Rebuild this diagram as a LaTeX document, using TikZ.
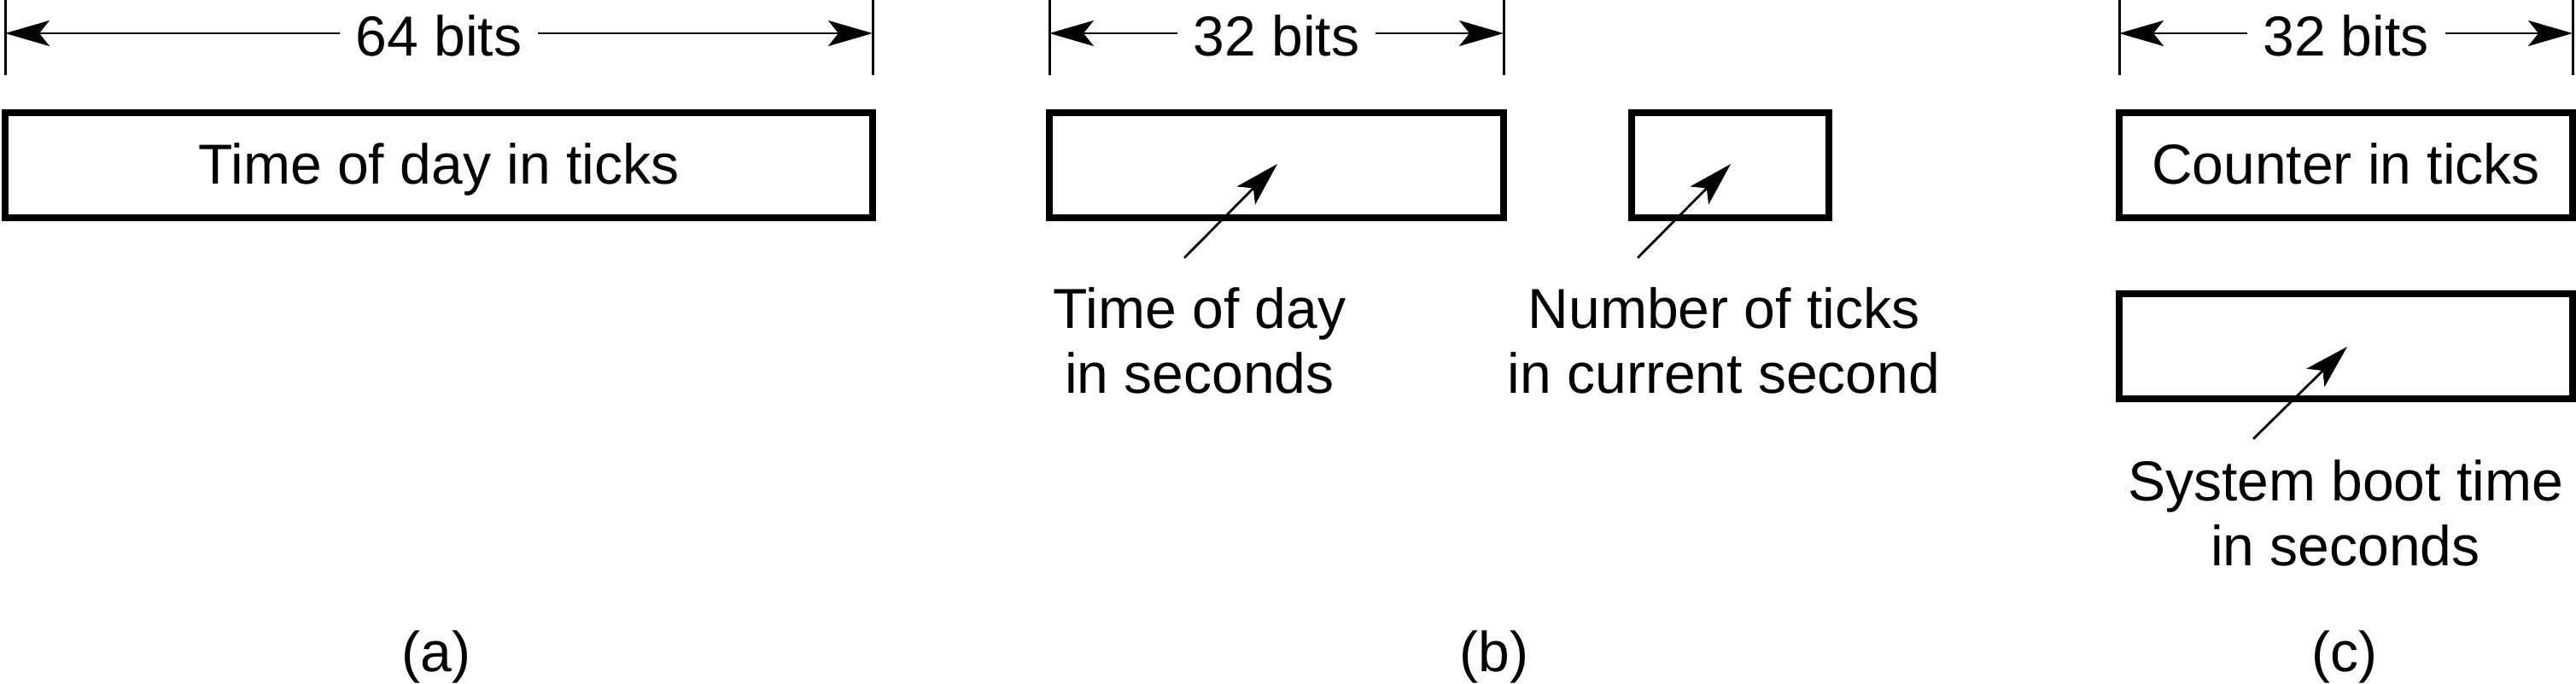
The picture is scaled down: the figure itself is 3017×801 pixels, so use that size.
\documentclass[tikz,border=0pt]{standalone}
\usepackage{fontspec}
\setmainfont{Liberation Sans}
\usetikzlibrary{arrows.meta}
\begin{document}
\begin{tikzpicture}[x=0.25pt,y=-0.25pt,
  every node/.style={font=\fontsize{16.5}{19}\selectfont, inner sep=0pt},
  field/.style={draw, line width=1.8pt, minimum height=30.75pt, text height=12pt, text depth=1pt, inner sep=0pt},
  tickline/.style={line width=0.75pt},
  dimarrow/.style={line width=0.7pt, -{Stealth[length=13pt,width=7.5pt,inset=3pt]}},
  pointer/.style={line width=0.7pt, -{Stealth[length=13pt,width=7.5pt,inset=3pt]}},
  dimlabel/.style={anchor=base, inner xsep=4.5pt},
  caption/.style={align=center, anchor=north},
]
\useasboundingbox (0,0) rectangle (3017,801);

% ---------- (a) ----------
\coordinate (aTt) at (6,0);    \coordinate (aTb) at (6,88);
\coordinate (aUt) at (1022,0); \coordinate (aUb) at (1022,88);
\draw[tickline] (aTt) -- (aTb);
\draw[tickline] (aUt) -- (aUb);
\coordinate (aL) at (6,39); \coordinate (aR) at (1022,39);
\node[dimlabel] (d64) at (514,66) {64 bits};
\draw[dimarrow] (d64.west |- aL) -- (aL);
\draw[dimarrow] (d64.east |- aR) -- (aR);
\node[field, minimum width=254pt] (fa) at (514,193.5) {Time of day in ticks};
\node[anchor=base] (la) at (511,786) {(a)};

% ---------- (b) ----------
\coordinate (bTt) at (1229,0); \coordinate (bTb) at (1229,88);
\coordinate (bUt) at (1761,0); \coordinate (bUb) at (1761,88);
\draw[tickline] (bTt) -- (bTb);
\draw[tickline] (bUt) -- (bUb);
\coordinate (bL) at (1229,39); \coordinate (bR) at (1761,39);
\node[dimlabel] (d32b) at (1495,66) {32 bits};
\draw[dimarrow] (d32b.west |- bL) -- (bL);
\draw[dimarrow] (d32b.east |- bR) -- (bR);
\node[field, minimum width=133pt] (fb1) at (1495,193.5) {};
\node[field, minimum width=57.75pt] (fb2) at (2026.5,193.5) {};
\node[caption] (cb1) at (1405,336) {Time of day\\in seconds};
\node[caption] (cb2) at (2019,336) {Number of ticks\\in current second};
\coordinate (p1s) at (1387,302); \coordinate (p1e) at (1496,192);
\coordinate (p2s) at (1918,302); \coordinate (p2e) at (2027,192);
\draw[pointer] (p1s) -- (p1e);
\draw[pointer] (p2s) -- (p2e);
\node[anchor=base] (lb) at (1750,786) {(b)};

% ---------- (c) ----------
\coordinate (cTt) at (2482,0); \coordinate (cTb) at (2482,88);
\coordinate (cUt) at (3013,0); \coordinate (cUb) at (3013,88);
\draw[tickline] (cTt) -- (cTb);
\draw[tickline] (cUt) -- (cUb);
\coordinate (cL) at (2482,39); \coordinate (cR) at (3013,39);
\node[dimlabel] (d32c) at (2747.5,66) {32 bits};
\draw[dimarrow] (d32c.west |- cL) -- (cL);
\draw[dimarrow] (d32c.east |- cR) -- (cR);
\node[field, minimum width=132.75pt] (fc1) at (2747.5,193.5) {Counter in ticks};
\node[field, minimum width=132.75pt] (fc2) at (2747.5,405.5) {};
\node[caption] (cc) at (2747,538) {System boot time\\in seconds};
\coordinate (p3s) at (2639,514); \coordinate (p3e) at (2749,406);
\draw[pointer] (p3s) -- (p3e);
\node[anchor=base] (lc) at (2746,786) {(c)};
\end{tikzpicture}
\end{document}
